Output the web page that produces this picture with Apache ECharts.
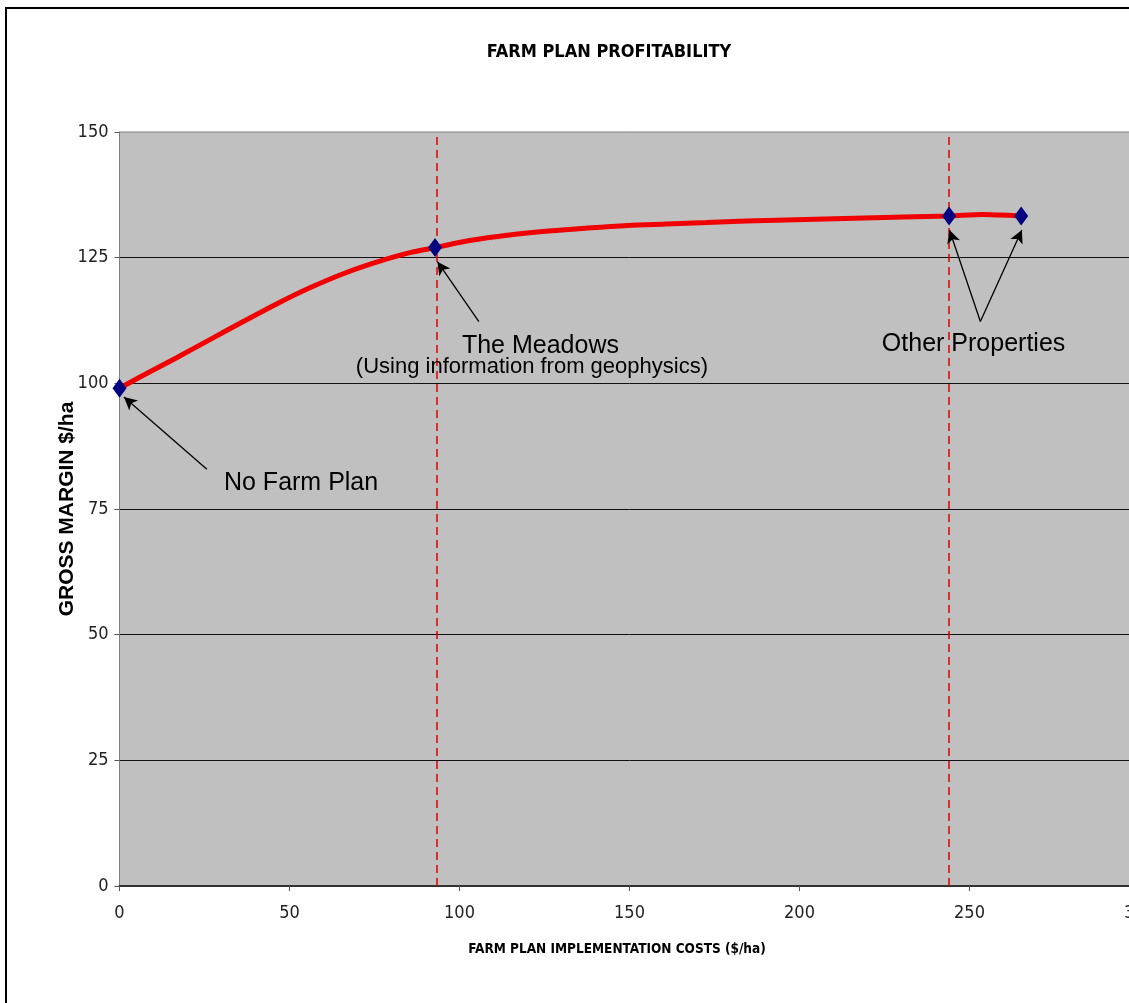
<!DOCTYPE html>
<html>
<head>
<meta charset="utf-8">
<script src="https://cdn.jsdelivr.net/npm/echarts@6/dist/echarts.min.js"></script>
<style>
  html, body { margin: 0; padding: 0; background: #fff; overflow: hidden; width: 1129px; height: 1003px; }
  #chart { position: absolute; left: 0; top: 0; width: 1160px; height: 1003px; }
  #frame { position: absolute; left: 5px; top: 7px; width: 2000px; height: 2000px; border: 2.5px solid #000; pointer-events: none; }
</style>
</head>
<body>
<div id="chart"></div>
<div id="frame"></div>
<script>
// ---- data ----
const xTicks = [0, 50, 100, 150, 200, 250, 300];
const yTicks = [0, 25, 50, 75, 100, 125, 150];

// smoothed profitability curve
const curveX = [0, 7, 16.8, 26.6, 36.4, 46.2, 56, 65.8, 75.6, 85.4, 92.8, 103, 114.6, 126.2, 137.8, 149.4, 161, 172.7, 184.3, 195.9, 207.5, 219.1, 230.7, 244, 254, 265];
const curveY = [99, 101.6, 105.1, 108.7, 112.3, 115.8, 119.0, 121.8, 124.1, 126.0, 127.0, 128.4, 129.5, 130.3, 130.9, 131.4, 131.7, 132.0, 132.3, 132.5, 132.7, 132.9, 133.1, 133.3, 133.6, 133.3];

// farm plans (diamond markers)
const planNames = ['No Farm Plan', 'The Meadows', 'Other Property 1', 'Other Property 2'];
const planCost = [0, 92.8, 244, 265.2];
const planMargin = [99, 127, 133.3, 133.3];

// vertical reference lines
const refLineX = [93.2, 244];

// annotation texts and their anchor (data coordinates)
const noteText = ['No Farm Plan', 'The Meadows', '(Using information from geophysics)', 'Other Properties'];
const noteX = [53.4, 123.8, 121.3, 251.2];
const noteY = [80.1, 107.5, 103.3, 107.8];
const noteSize = [25, 25, 22, 25];

// arrows (from text to point)
const arrowFromX = [25.7, 105.7, 253.2, 253.2];
const arrowFromY = [82.9, 112.3, 112.3, 112.3];
const arrowToX = [1.3, 93.5, 244.1, 265.4];
const arrowToY = [97.3, 124.2, 130.5, 130.5];

// ---- chart ----
const NARROW = '"Liberation Sans Narrow", "Arial Narrow", "DejaVu Sans Condensed", sans-serif';
const SANS = '"Liberation Sans", Arial, sans-serif';

const chart = echarts.init(document.getElementById('chart'), null, { renderer: 'canvas' });

const curveData = curveX.map((x, i) => [x, curveY[i]]);
const planData = planCost.map((x, i) => ({ name: planNames[i], value: [x, planMargin[i]] }));
const noteData = noteText.map((t, i) => ({
  value: [noteX[i], noteY[i]],
  label: { formatter: t, fontSize: noteSize[i] }
}));
const arrowData = arrowFromX.map((x, i) => [
  { coord: [x, arrowFromY[i]] },
  { coord: [arrowToX[i], arrowToY[i]] }
]);

chart.setOption({
  animation: false,
  backgroundColor: 'transparent',
  title: {
    text: 'FARM PLAN PROFITABILITY',
    left: 604,
    textAlign: 'center',
    top: 38,
    textStyle: { fontFamily: NARROW, fontWeight: 'bold', fontSize: 18, color: '#000' }
  },
  grid: {
    left: 119.5, top: 132, width: 1020, height: 754,
    show: true, backgroundColor: '#c0c0c0', borderColor: '#808080', borderWidth: 1
  },
  xAxis: {
    type: 'value', min: xTicks[0], max: xTicks[xTicks.length - 1], interval: 50,
    name: 'FARM PLAN IMPLEMENTATION COSTS ($/ha)',
    nameLocation: 'middle', nameGap: 56,
    nameTextStyle: { fontFamily: NARROW, fontWeight: 'bold', fontSize: 13.5, color: '#000', padding: [0, 25, 0, 0] },
    axisLine: { show: true, onZero: false, lineStyle: { color: '#333', width: 2 } },
    axisTick: { show: true, length: 5, lineStyle: { color: '#555' } },
    axisLabel: { fontFamily: NARROW, fontSize: 18, color: '#222', margin: 18 },
    splitLine: { show: false }
  },
  yAxis: {
    type: 'value', min: yTicks[0], max: yTicks[yTicks.length - 1], interval: 25,
    name: 'GROSS MARGIN $/ha',
    nameLocation: 'middle', nameGap: 42, nameRotate: 90,
    nameMoveOverlap: false,
    nameTextStyle: { fontFamily: SANS, fontWeight: 'bold', fontSize: 21, color: '#000' },
    axisLine: { show: true, lineStyle: { color: '#808080', width: 1 } },
    axisTick: { show: true, length: 5, lineStyle: { color: '#555' } },
    axisLabel: { fontFamily: NARROW, fontSize: 18, color: '#222', margin: 11 },
    splitLine: { show: true, showMinLine: false, showMaxLine: false, lineStyle: { color: '#111', width: 1 } }
  },
  series: [
    {
      name: 'Profitability curve',
      type: 'line',
      data: curveData,
      smooth: 0.3,
      showSymbol: false,
      lineStyle: { color: '#f00000', width: 5 },
      z: 3,
      markLine: {
        silent: true,
        symbol: ['none', 'none'],
        label: { show: false },
        lineStyle: { color: '#e00000', type: [8, 5], width: 1.5 },
        data: refLineX.map(x => ({ xAxis: x }))
      }
    },
    {
      name: 'Farm plans',
      type: 'scatter',
      data: planData,
      symbol: 'diamond',
      symbolSize: [14, 19],
      itemStyle: { color: '#000080', opacity: 1 },
      z: 5
    },
    {
      name: 'Annotations',
      type: 'scatter',
      data: noteData,
      symbolSize: 0,
      silent: true,
      z: 6,
      itemStyle: { opacity: 1 },
      label: {
        show: true, position: 'inside', color: '#000', fontFamily: SANS,
        align: 'center', verticalAlign: 'middle', textBorderWidth: 0, opacity: 1
      },
      markLine: {
        silent: true,
        symbol: ['none', 'arrow'],
        symbolSize: [10, 13],
        label: { show: false },
        lineStyle: { color: '#000', type: 'solid', width: 1.3, opacity: 1 },
        data: arrowData
      }
    }
  ]
});
</script>
</body>
</html>
